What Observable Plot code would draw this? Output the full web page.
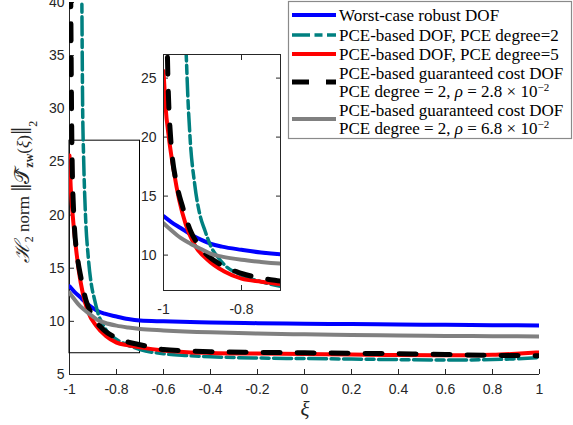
<!DOCTYPE html>
<html><head><meta charset="utf-8">
<script src="https://cdn.jsdelivr.net/npm/d3@7"></script>
<script src="https://cdn.jsdelivr.net/npm/@observablehq/plot@0.6"></script>
<style>
body{margin:0;background:#fff;}
#wrap{position:relative;width:573px;height:425px;overflow:hidden;background:#fff;}
#wrap > svg{position:absolute;}
</style></head><body><div id="wrap"></div>
<script>
// ---------- data ----------
const seriesNames = ["Worst-case robust DOF", "PCE-based DOF, PCE degree=2", "PCE-based DOF, PCE degree=5", "PCE-based guaranteed cost DOF rho=2.8e-2", "PCE-based guaranteed cost DOF rho=6.8e-2"];

const xiBlue = [-1, -0.98, -0.956, -0.93, -0.9, -0.878, -0.85, -0.8, -0.75, -0.7, -0.6, -0.4, -0.2, 0, 0.2, 0.4, 0.6, 0.8, 1];
const hBlue  = [13.3, 12.8, 12.3, 11.75, 11.25, 10.95, 10.72, 10.45, 10.22, 10.08, 10.0, 9.9, 9.83, 9.78, 9.74, 9.7, 9.67, 9.64, 9.62];

const xiTeal = [-1, -0.955, -0.948, -0.944, -0.94, -0.932, -0.92, -0.905, -0.895, -0.878, -0.86, -0.843, -0.8, -0.75, -0.7, -0.6, -0.5, -0.4, -0.2, 0, 0.2, 0.4, 0.6, 0.8, 0.9, 1];
const hTeal  = [200, 60, 42, 30, 25.5, 20, 16, 13.2, 12.2, 10.7, 9.8, 9.15, 8.3, 7.75, 7.35, 6.95, 6.78, 6.67, 6.55, 6.5, 6.45, 6.4, 6.36, 6.4, 6.48, 6.6];

const xiRed = [-1, -0.995, -0.986, -0.973, -0.96, -0.943, -0.921, -0.887, -0.844, -0.8, -0.75, -0.7, -0.6, -0.5, -0.4, -0.2, 0, 0.2, 0.4, 0.6, 0.8, 0.9, 1];
const hRed  = [25.6, 22.7, 19.9, 17.0, 14.7, 12.6, 10.9, 9.6, 8.6, 8.0, 7.75, 7.55, 7.25, 7.1, 7.03, 6.97, 6.93, 6.88, 6.83, 6.8, 6.85, 6.95, 7.08];

const xiBlack = [-1, -0.996, -0.993, -0.99, -0.982, -0.965, -0.952, -0.93, -0.904, -0.852, -0.8, -0.75, -0.7, -0.6, -0.5, -0.4, -0.2, 0, 0.2, 0.4, 0.6, 0.8, 1];
const hBlack  = [70, 46, 35, 27, 20.1, 15.85, 14.2, 12.0, 10.6, 9.15, 8.45, 8.05, 7.8, 7.35, 7.22, 7.15, 7.08, 7.04, 7.0, 6.95, 6.88, 6.8, 6.77];

const xiGray = [-1, -0.98, -0.956, -0.93, -0.9, -0.878, -0.85, -0.8, -0.75, -0.7, -0.6, -0.4, -0.2, 0, 0.2, 0.4, 0.6, 0.8, 1];
const hGray  = [12.7, 12.1, 11.45, 10.95, 10.45, 10.1, 9.87, 9.6, 9.42, 9.28, 9.15, 8.97, 8.86, 8.78, 8.72, 8.67, 8.63, 8.6, 8.58];

const xTicks = [-1, -0.8, -0.6, -0.4, -0.2, 0, 0.2, 0.4, 0.6, 0.8, 1];
const yTicks = [5, 10, 15, 20, 25, 30, 35, 40];
const insetXTicks = [-1, -0.8];
const insetYTicks = [10, 15, 20, 25];
const xDomain = [-1, 1];
const yDomain = [5, 40];
const insetXDomain = [-1, -0.7];
const insetYDomain = [7, 27];

// ---------- styles ----------
const styles = [
  {stroke: "#0000ff", strokeWidth: 4},
  {stroke: "#008080", strokeWidth: 3.5, strokeDasharray: "18,4.5,8,4.5"},
  {stroke: "#ff0000", strokeWidth: 4},
  {stroke: "#000000", strokeWidth: 5, strokeDasharray: "17,17"},
  {stroke: "#808080", strokeWidth: 4}
];
const seriesData = [[xiBlue, hBlue], [xiTeal, hTeal], [xiRed, hRed], [xiBlack, hBlack], [xiGray, hGray]]
  .map(([xs, ys], k) => xs.map((x, i) => ({series: seriesNames[k], xi: x, h: ys[i]})));

const fmt = d => String(+(+d).toFixed(1));
const axisColor = "#262626";
const lineMarks = () => seriesData.map((d, k) => Plot.line(d, {x: "xi", y: "h", curve: "monotone-x", clip: true, ...styles[k]}));

const wrap = document.getElementById("wrap");

// ---------- main plot ----------
const main = Plot.plot({
  width: 573, height: 425,
  marginLeft: 69, marginRight: 34, marginTop: 2, marginBottom: 51,
  x: {domain: xDomain},
  y: {domain: yDomain},
  style: {fontFamily: "'Liberation Sans', Arial, sans-serif", fontSize: "14px", color: axisColor, background: "transparent", overflow: "visible"},
  marks: [
    Plot.axisX({ticks: xTicks, tickSize: -5, tickPadding: 15, tickFormat: fmt, label: null, stroke: axisColor}),
    Plot.axisY({ticks: yTicks, tickSize: -5, tickPadding: 10, tickFormat: fmt, label: null, stroke: axisColor}),
    Plot.ruleX([xDomain[0]], {stroke: axisColor}),
    Plot.ruleY([yDomain[0]], {stroke: axisColor}),
    Plot.rect([{x1: insetXDomain[0], x2: insetXDomain[1], y1: insetYDomain[0], y2: insetYDomain[1]}], {x1: "x1", x2: "x2", y1: "y1", y2: "y2", fill: "none", stroke: "#000", strokeWidth: 1}),
    ...lineMarks()
  ]
});
main.style.left = "0px"; main.style.top = "0px";
wrap.appendChild(main);

// ---------- inset ----------
const inset = Plot.plot({
  width: 155, height: 276,
  marginLeft: 33, marginRight: 5, marginTop: 10, marginBottom: 30,
  x: {domain: insetXDomain},
  y: {domain: insetYDomain},
  style: {fontFamily: "'Liberation Sans', Arial, sans-serif", fontSize: "14px", color: axisColor, background: "transparent", overflow: "visible"},
  marks: [
    Plot.frame({fill: "white", stroke: "none"}),
    Plot.axisX({ticks: insetXTicks, tickSize: -5, tickPadding: 19, tickFormat: fmt, label: null, stroke: axisColor}),
    Plot.axisX({anchor: "top", ticks: insetXTicks, tickSize: -5, tickFormat: () => "", label: null, stroke: axisColor}),
    Plot.axisY({ticks: insetYTicks, tickSize: -5, tickPadding: 12, tickFormat: fmt, label: null, stroke: axisColor}),
    Plot.axisY({anchor: "right", ticks: insetYTicks, tickSize: -5, tickFormat: () => "", label: null, stroke: axisColor}),
    ...lineMarks(),
    Plot.frame({stroke: axisColor, strokeWidth: 1})
  ]
});
inset.style.left = "130px"; inset.style.top = "44px";
wrap.appendChild(inset);

// ---------- overlay: legend and axis titles ----------
const svg = d3.select(wrap).append("svg").attr("width", 573).attr("height", 425).style("left", "0px").style("top", "0px");
const serif = "'Liberation Serif', 'DejaVu Serif', serif";

// legend
const leg = svg.append("g").attr("font-family", serif).attr("font-size", 17).attr("fill", "#000");
leg.append("rect").attr("x", 288.5).attr("y", 1.5).attr("width", 283).attr("height", 137).attr("fill", "#fff").attr("stroke", "#8a8a8a").attr("stroke-width", 1.2);
const legRows = [15, 35, 54, 82, 119];
const legLines = [
  [["Worst-case robust DOF"]],
  [["PCE-based DOF, PCE degree=2"]],
  [["PCE-based DOF, PCE degree=5"]],
  [["PCE-based guaranteed cost DOF"], ["PCE degree = 2, ", "ρ", " = 2.8 × 10", "−2"]],
  [["PCE-based guaranteed cost DOF"], ["PCE degree = 2, ", "ρ", " = 6.8 × 10", "−2"]]
];
legRows.forEach((yc, k) => {
  const s = styles[k];
  leg.append("line").attr("x1", 292).attr("x2", 336).attr("y1", yc).attr("y2", yc)
    .attr("stroke", s.stroke).attr("stroke-width", s.strokeWidth).attr("stroke-dasharray", s.strokeDasharray || null);
  const lines = legLines[k];
  lines.forEach((parts, j) => {
    const base = lines.length === 1 ? yc + 6 : yc + 6 + (j === 0 ? -9.5 : 9);
    const t = leg.append("text").attr("x", 339).attr("y", base);
    parts.forEach((p, i) => {
      const ts = t.append("tspan").text(p);
      if (i === 1) ts.attr("font-style", "italic");
      if (i === 3) ts.attr("font-size", 11).attr("dy", -6);
    });
  });
});

// x label
svg.append("text").attr("x", 305).attr("y", 416).attr("text-anchor", "middle")
  .attr("font-family", serif).attr("font-style", "italic").attr("font-size", 21).attr("fill", axisColor).text("ξ");

// y label
const yl = svg.append("text").attr("transform", "translate(29,192) rotate(-90)").attr("text-anchor", "middle")
  .attr("font-family", serif).attr("font-size", 17).attr("fill", axisColor);
yl.append("tspan").attr("font-style", "italic").attr("font-size", 20).text("ℋ");
yl.append("tspan").attr("font-size", 12).attr("dy", 4).text("2");
yl.append("tspan").attr("dy", -4).text(" norm ");
yl.append("tspan").attr("font-size", 29).attr("dy", 2).text("‖");
yl.append("tspan").attr("font-size", 21).attr("dy", -2).text("𝒯\u0302");
yl.append("tspan").attr("font-size", 12).attr("font-weight", "bold").attr("dy", 4).text("zw");
yl.append("tspan").attr("dy", -4).text("(");
yl.append("tspan").attr("font-style", "italic").text("ξ");
yl.append("tspan").text(")");
yl.append("tspan").attr("font-size", 29).attr("dy", 2).text("‖");
yl.append("tspan").attr("font-size", 12).attr("dy", 6).text("2");
</script></body></html>
